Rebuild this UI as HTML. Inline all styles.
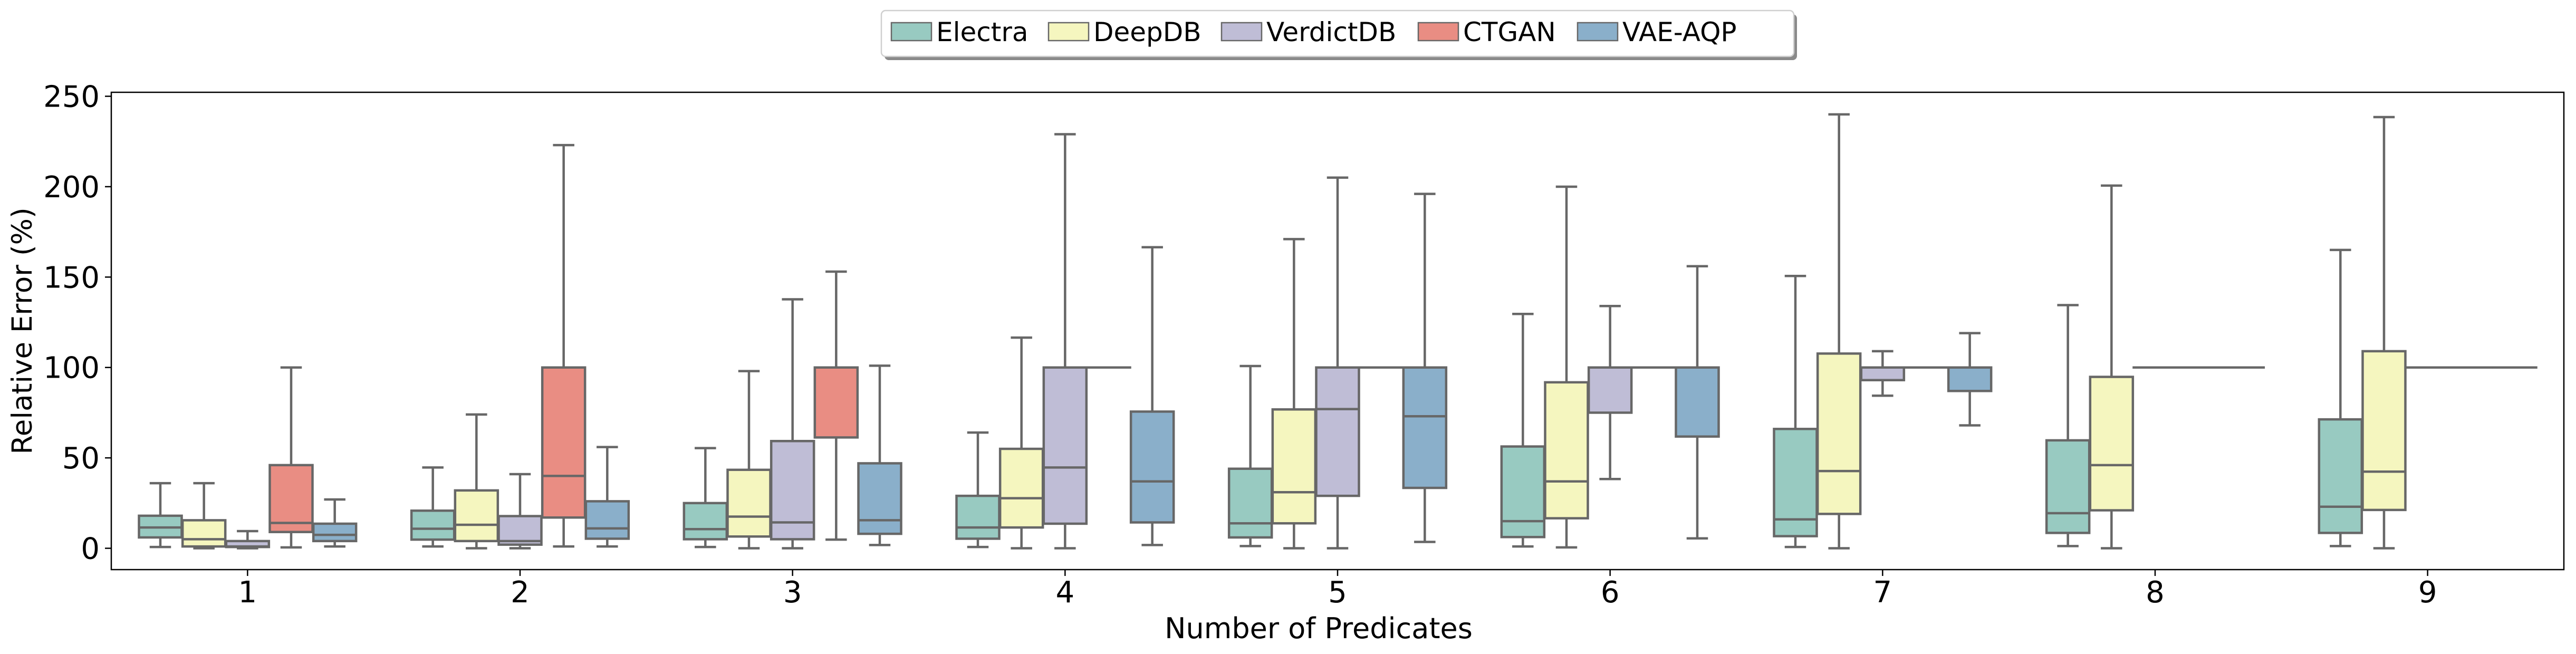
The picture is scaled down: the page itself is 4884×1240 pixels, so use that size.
<!DOCTYPE html>
<html><head><meta charset="utf-8"><style>
html,body{margin:0;padding:0;background:#fff;}
svg{display:block;font-family:"DejaVu Sans","Liberation Sans",sans-serif;}
</style></head><body>
<svg id="chart" width="4884" height="1240" viewBox="0 0 4884 1240" xmlns="http://www.w3.org/2000/svg"></svg>
<script>
const categories = ["1","2","3","4","5","6","7","8","9"];
const seriesNames = ["Electra","DeepDB","VerdictDB","CTGAN","VAE-AQP"];
const seriesColors = ["#98cac1","#f5f6bf","#bfbdd6","#e98d83","#8aafca"];
const yTicks = [0,50,100,150,200,250];
// each entry: [whiskerLow, q1, median, q3, whiskerHigh]
const electra = [[0.7,6,11.5,18,36],[1,4.8,10.8,20.8,44.7],[0.7,5,10.6,25,55.4],[0.7,5.3,11.5,29,64],[1.2,6,13.8,44,100.8],[1,6.2,15,56.3,129.6],[0.7,6.7,16,66,150.6],[1.2,8.5,19.4,59.7,134.5],[1.2,8.5,23,71.3,165]];
const deepdb = [[0,1,5,15.5,36],[0,4,13,32,74],[0,6.5,17.5,43.4,98],[0,11.5,27.7,55,116.5],[0,13.8,31,76.8,171],[0.5,16.6,37,91.8,200],[0,19,42.7,107.7,240],[0,21,46,94.8,200.6],[0,21.2,42.4,109,238.5]];
const verdictdb = [[0,0.7,1,4,9.5],[0,2,4,17.8,41],[0,5,14.3,59.3,137.7],[0,13.6,44.7,100,229],[0,29,77,100,205],[38.3,75,100,100,134],[84.4,93,100,100,109],[100,100,100,100,100],[100,100,100,100,100]];
const ctgan = [[0.5,9,14,46,100],[1,17,40,100,223],[4.8,61.3,100,100,153],[100,100,100,100,100],[100,100,100,100,100],[100,100,100,100,100],[100,100,100,100,100],[100,100,100,100,100],[100,100,100,100,100]];
const vaeaqp = [[1,4,7.4,13.6,27],[1,5.3,11,26,56],[1.8,8,15.5,47,101],[1.8,14.3,37,75.6,166.5],[3.5,33.4,73,100,196],[5.5,61.8,100,100,156],[68,87,100,100,119],[100,100,100,100,100],[100,100,100,100,100]];
const seriesData = [electra, deepdb, verdictdb, ctgan, vaeaqp];

const svg = document.getElementById('chart');
const NS = "http://www.w3.org/2000/svg";
const L=211, R=4861, T=175, B=1080;
const xMin=-0.5, xMax=categories.length-0.5, yMin=-11.8, yMax=252.2;
const xs = v => L + (v - xMin) / (xMax - xMin) * (R - L);
const ys = v => B - (v - yMin) / (yMax - yMin) * (B - T);
const GRAY="#676767", LW=4.5;
function el(tag, attrs, parent){ const e=document.createElementNS(NS,tag); for(const k in attrs) e.setAttribute(k,attrs[k]); (parent||svg).appendChild(e); return e; }

const frame = el('rect',{x:L,y:T,width:R-L,height:B-T,fill:'none',stroke:'#000','stroke-width':2.5});



yTicks.forEach(t=>{
  const g = el('g',{});
  
  
  el('line',{x1:L-12,x2:L,y1:ys(t),y2:ys(t),stroke:'#000','stroke-width':2.5},g);
  const tx = el('text',{x:L-22,y:ys(t)+20,'text-anchor':'end','font-size':56,fill:'#000'},g);
  tx.textContent = t;
});
categories.forEach((c,i)=>{
  const g = el('g',{});
  
  
  el('line',{x1:xs(i),x2:xs(i),y1:B,y2:B+12,stroke:'#000','stroke-width':2.5},g);
  const tx = el('text',{x:xs(i),y:B+62,'text-anchor':'middle','font-size':56,fill:'#000'},g);
  tx.textContent = c;
});
const yl = el('text',{x:0,y:0,'text-anchor':'middle','font-size':53,fill:'#000',transform:`translate(60,${(T+B)/2}) rotate(-90)`});


yl.textContent='Relative Error (%)';
const xl = el('text',{x:2500,y:1210,'text-anchor':'middle','font-size':54,fill:'#000'});


xl.textContent='Number of Predicates';

const hueW = 0.8/seriesNames.length;
const boxW = hueW*0.98;
seriesData.forEach((ser,s)=>{
  ser.forEach((d,i)=>{
    const cx = i - 0.4 + hueW*(s+0.5);
    const x0 = xs(cx-boxW/2), x1 = xs(cx+boxW/2), xc = xs(cx);
    const capL = xs(cx-boxW/4), capR = xs(cx+boxW/4);
    const g = el('g',{});
    
    
    el('line',{x1:xc,x2:xc,y1:ys(d[3]),y2:ys(d[4]),stroke:GRAY,'stroke-width':LW},g);
    el('line',{x1:xc,x2:xc,y1:ys(d[0]),y2:ys(d[1]),stroke:GRAY,'stroke-width':LW},g);
    el('line',{x1:capL,x2:capR,y1:ys(d[4]),y2:ys(d[4]),stroke:GRAY,'stroke-width':LW},g);
    el('line',{x1:capL,x2:capR,y1:ys(d[0]),y2:ys(d[0]),stroke:GRAY,'stroke-width':LW},g);
    el('rect',{x:x0,y:ys(d[3]),width:x1-x0,height:Math.max(0.01,ys(d[1])-ys(d[3])),fill:seriesColors[s],stroke:GRAY,'stroke-width':LW},g);
    el('line',{x1:x0,x2:x1,y1:ys(d[2]),y2:ys(d[2]),stroke:GRAY,'stroke-width':LW},g);
  });
});

const lg = el('g',{});


el('rect',{x:1677,y:27,width:1730,height:87,rx:8,fill:'#8a8a8a'},lg);
el('rect',{x:1671,y:20,width:1730,height:87,rx:8,fill:'#fff',stroke:'#cfcfcf','stroke-width':2.5},lg);
const patchX = [1690,1988,2316,2689,2991];
seriesNames.forEach((n,s)=>{
  const e = el('g',{},lg);
  
  
  el('rect',{x:patchX[s],y:43,width:76,height:34,fill:seriesColors[s],stroke:GRAY,'stroke-width':2.5},e);
  const t = el('text',{x:patchX[s]+85,y:78,'font-size':50,fill:'#000'},e);
  t.textContent = n;
});
</script>
</body></html>
